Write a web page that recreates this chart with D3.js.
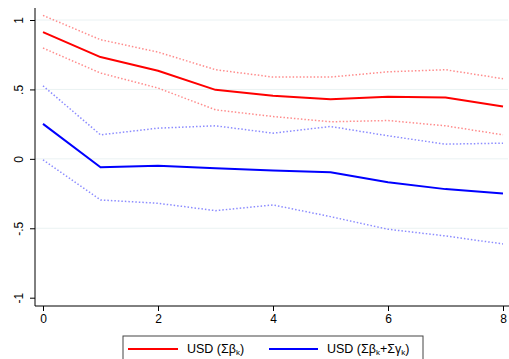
<!DOCTYPE html>
<html><head><meta charset="utf-8">
<script src="https://cdn.jsdelivr.net/npm/d3@7"></script>
<style>body{margin:0;background:#fff;}svg{display:block;font-family:"Liberation Sans",Arial,sans-serif;}</style>
</head><body>
<svg id="c" width="509" height="359"></svg>
<script>
const horizons = [0,1,2,3,4,5,6,7,8];
const usdBeta      = [0.913,0.733,0.634,0.497,0.455,0.430,0.447,0.442,0.377];
const usdBetaHi    = [1.033,0.858,0.769,0.642,0.589,0.589,0.627,0.642,0.577];
const usdBetaLo    = [0.798,0.618,0.510,0.353,0.305,0.267,0.276,0.238,0.173];
const usdSum       = [0.252,-0.060,-0.050,-0.067,-0.084,-0.096,-0.168,-0.218,-0.250];
const usdSumHi     = [0.526,0.173,0.221,0.238,0.185,0.233,0.166,0.106,0.113];
const usdSumLo     = [-0.007,-0.296,-0.320,-0.373,-0.332,-0.416,-0.507,-0.555,-0.613];
const xTicks = [0,2,4,6,8];
const yTicks = [-1,-0.5,0,0.5,1];
const yTickLabels = ["-1","-.5","0",".5","1"];

(function(){
const svg = d3.select("#c");
const x = d3.scaleLinear().domain([0,8]).range([43,503]);
const y = d3.scaleLinear().domain([-1,1]).range([297.7,20]);
const pL = 35, pR = 508, pT = 8, pB = 306;

// gridlines
svg.append("g").selectAll("line").data(yTicks.filter(v=>v>-1)).join("line")
  .attr("x1",pL).attr("x2",pR).attr("y1",d=>y(d)).attr("y2",d=>y(d))
  .attr("stroke","#eaf2f3").attr("stroke-width",1);

// axes
const yAxis = d3.axisLeft(y).tickValues(yTicks).tickSize(5).tickFormat((d,i)=>yTickLabels[i]);
const gy = svg.append("g").attr("transform",`translate(${pL},0)`).call(yAxis);
gy.select(".domain").attr("d",`M0,${pT}V${pB}`).attr("stroke","#000");
gy.selectAll(".tick line").attr("stroke","#000");
gy.selectAll(".tick text").attr("font-size",12).attr("fill","#000")
  .attr("text-anchor","middle").attr("x",0).attr("dy",0)
  .attr("transform","translate(-12,0) rotate(-90)");

const xAxis = d3.axisBottom(x).tickValues(xTicks).tickSize(5).tickFormat(d3.format("d"));
const gx = svg.append("g").attr("transform",`translate(0,${pB})`).call(xAxis);
gx.select(".domain").attr("d",`M${pL},0H${pR+1}`).attr("stroke","#000");
gx.selectAll(".tick line").attr("stroke","#000");
gx.selectAll(".tick text").attr("font-size",12).attr("fill","#000").attr("y",8);

const line = d3.line().x((d,i)=>x(horizons[i])).y(d=>y(d));
function draw(data,color,w,dash){
  const p = svg.append("path").datum(data).attr("d",line).attr("fill","none")
    .attr("stroke",color).attr("stroke-width",w).attr("stroke-linejoin","round");
  if(dash) p.attr("stroke-dasharray",dash);
}
draw(usdBetaHi,"#ff8c8c",1.5,"1.5,2");
draw(usdBetaLo,"#ff8c8c",1.5,"1.5,2");
draw(usdSumHi,"#8c8cff",1.5,"1.5,2");
draw(usdSumLo,"#8c8cff",1.5,"1.5,2");
draw(usdBeta,"#ff0000",2);
draw(usdSum,"#0000ff",2);

// legend
const lg = svg.append("g");
lg.append("rect").attr("x",123).attr("y",336).attr("width",300).attr("height",30)
  .attr("fill","#fff").attr("stroke","#444").attr("stroke-width",1);
const items = [
  {color:"#ff0000", x0:128, x1:178, tx:187, parts:[["USD (Σβ",0],["k",1],[")",0]]},
  {color:"#0000ff", x0:269, x1:318, tx:327, parts:[["USD (Σβ",0],["k",1],["+Σγ",0],["k",1],[")",0]]}
];
items.forEach(it=>{
  lg.append("line").attr("x1",it.x0).attr("x2",it.x1).attr("y1",349).attr("y2",349)
    .attr("stroke",it.color).attr("stroke-width",2);
  const t = lg.append("text").attr("x",it.tx).attr("y",353).attr("font-size",12.5).attr("fill","#000");
  let prevSub = false;
  it.parts.forEach(([s,sub])=>{
    const ts = t.append("tspan").text(s);
    if(sub){ ts.attr("font-size",8).attr("dy",2); }
    else if(prevSub){ ts.attr("dy",-2); }
    prevSub = !!sub;
  });
});
})();
</script>
</body></html>
